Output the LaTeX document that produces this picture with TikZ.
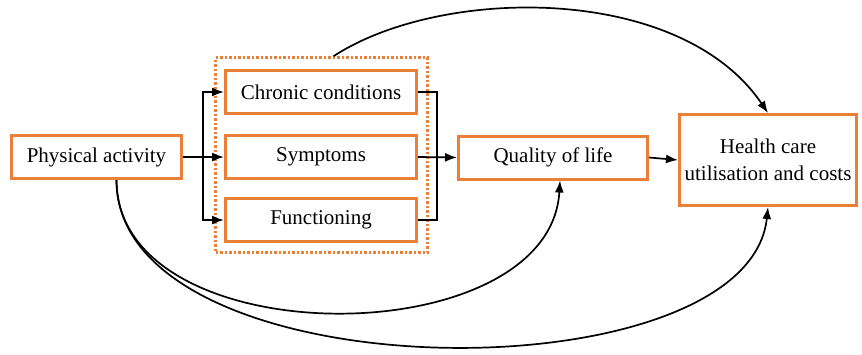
\documentclass[tikz,border=0pt]{standalone}
\usepackage{fontspec}
\setmainfont{Liberation Serif}
\usetikzlibrary{arrows.meta}
\definecolor{boxorange}{RGB}{234,128,56}

\begin{document}
\begin{tikzpicture}[x=1pt, y=-1pt, >={Latex[length=12pt,width=9pt]},
  every node/.style={font=\fontsize{21}{27}\selectfont},
  factor/.style={draw=boxorange, line width=3pt, inner sep=0pt, minimum height=43pt},
  link/.style={line width=1.7pt}]

  \useasboundingbox (0,0) rectangle (862,354);

  \node[factor, minimum width=170pt] (phys) at (96.5,157) {Physical activity};
  \node[factor, minimum width=191pt] (chronic) at (321,92) {Chronic conditions};
  \node[factor, minimum width=191pt] (sympt) at (321,157) {Symptoms};
  \node[factor, minimum width=191pt] (func) at (321,220) {Functioning};
  \node[factor, minimum width=189pt] (qol) at (553,157.5) {Quality of life};
  \node[factor, minimum width=177pt, minimum height=91pt, align=center] (health) at (768,160) {Health care\\utilisation and costs};

  \node[draw=boxorange, line width=2.5pt, dash pattern=on 2.5pt off 2pt,
    minimum width=212pt, minimum height=195pt] (group) at (321.5,155) {};

  \coordinate (split) at (203,157);
  \coordinate (join) at (437,157);

  \draw[link,->] (phys.east) -- (sympt.west);
  \draw[link,->] (split) |- (chronic.west);
  \draw[link,->] (split) |- (func.west);

  \draw[link] (chronic.east) -| (join) |- (func.east);
  \draw[link,->] (sympt.east) -- (qol.west);
  \draw[link,->] (qol.east) -- (health.west);

  \draw[link,->] ([xshift=12pt]group.north) .. controls +(107,-70) and +(-88,-130) .. (health.north);
  \draw[link,->] ([xshift=20pt]phys.south) .. controls +(0,177) and +(-10,175) .. ([xshift=7pt]qol.south);
  \draw[link,->] ([xshift=20pt]phys.south) .. controls +(0,215) and +(-20,192) .. (health.south);

\end{tikzpicture}
\end{document}
